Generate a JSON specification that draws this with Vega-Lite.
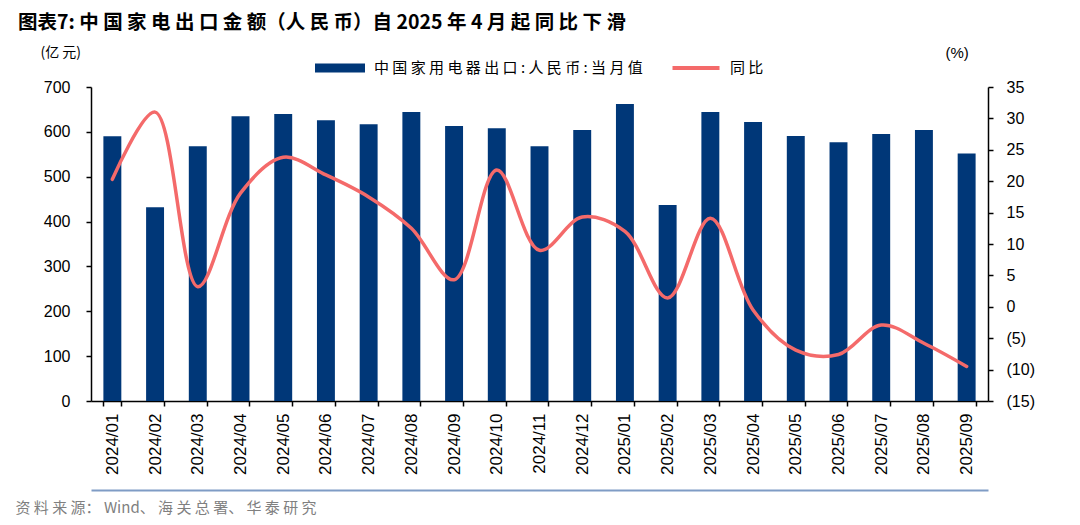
{
  "$schema": "https://vega.github.io/schema/vega-lite/v6.json",
  "width": 897,
  "height": 314,
  "autosize": {"type": "none"},
  "padding": {"left": 91, "top": 87, "right": 92, "bottom": 124},
  "background": "white",
  "title": {
    "text": "图表7:  中 国 家 电 出 口 金 额（人 民 币）自 2025 年 4 月 起 同 比 下 滑",
    "anchor": "start",
    "frame": "group",
    "dx": -73,
    "offset": 1,
    "baseline": "middle",
    "font": "Noto Sans CJK SC",
    "fontSize": 19.5,
    "fontWeight": "bold",
    "color": "#000000"
  },
  "config": {
    "view": {"stroke": null},
    "axis": {"grid": false}
  },
  "data": {
    "values": [
      {"month": "2024/01", "value": 590, "yoy": 20.3},
      {"month": "2024/02", "value": 432, "yoy": 31.0},
      {"month": "2024/03", "value": 568, "yoy": 3.2},
      {"month": "2024/04", "value": 635, "yoy": 18.1},
      {"month": "2024/05", "value": 640, "yoy": 23.8},
      {"month": "2024/06", "value": 626, "yoy": 21.0},
      {"month": "2024/07", "value": 617, "yoy": 17.5},
      {"month": "2024/08", "value": 644, "yoy": 12.5},
      {"month": "2024/09", "value": 613, "yoy": 4.3},
      {"month": "2024/10", "value": 608, "yoy": 21.8},
      {"month": "2024/11", "value": 568, "yoy": 9.0},
      {"month": "2024/12", "value": 604, "yoy": 14.3},
      {"month": "2025/01", "value": 662, "yoy": 12.0},
      {"month": "2025/02", "value": 437, "yoy": 1.4},
      {"month": "2025/03", "value": 644, "yoy": 14.1},
      {"month": "2025/04", "value": 622, "yoy": -0.5},
      {"month": "2025/05", "value": 591, "yoy": -6.9},
      {"month": "2025/06", "value": 577, "yoy": -7.6},
      {"month": "2025/07", "value": 595, "yoy": -2.9},
      {"month": "2025/08", "value": 604, "yoy": -5.8},
      {"month": "2025/09", "value": 552, "yoy": -9.5}
    ]
  },
  "layer": [
    {
      "mark": {"type": "bar", "color": "#003778"},
      "encoding": {
        "x": {
          "field": "month",
          "type": "nominal",
          "sort": null,
          "scale": {"paddingInner": 0.58, "paddingOuter": 0.29},
          "axis": {
            "orient": "bottom",
            "title": null,
            "labelAngle": -90,
            "labelAlign": "right",
            "labelBaseline": "middle",
            "labelFont": "Liberation Sans",
            "labelFontSize": 17,
            "labelColor": "#000000",
            "labelPadding": 7,
            "tickBand": "extent",
            "tickSize": 5,
            "tickColor": "#000000",
            "tickWidth": 1.5,
            "domainColor": "#000000",
            "domainWidth": 1.5
          }
        },
        "y": {
          "field": "value",
          "type": "quantitative",
          "scale": {"domain": [0, 700], "nice": false, "zero": true},
          "axis": {
            "orient": "left",
            "values": [0, 100, 200, 300, 400, 500, 600, 700],
            "title": "(亿 元)",
            "titleAngle": 0,
            "titleAlign": "left",
            "titleBaseline": "middle",
            "titleX": -51,
            "titleY": -35,
            "titleFont": "Noto Sans CJK SC",
            "titleFontSize": 14,
            "titleFontWeight": "normal",
            "titleColor": "#000000",
            "labelFont": "Liberation Sans",
            "labelFontSize": 16,
            "labelColor": "#000000",
            "labelPadding": 16,
            "tickSize": 5,
            "tickColor": "#000000",
            "tickWidth": 1.5,
            "domainColor": "#000000",
            "domainWidth": 1.5
          }
        },
        "color": {
          "datum": "中国家用电器出口:人民币:当月值",
          "type": "nominal",
          "scale": {
            "domain": ["中国家用电器出口:人民币:当月值", "同比"],
            "range": ["#003778", "#F46A6A"]
          },
          "legend": {
            "title": null,
            "orient": "none",
            "legendX": 224,
            "legendY": -44,
            "direction": "horizontal",
            "padding": 0,
            "symbolSize": 2500,
            "labelFont": "Noto Sans CJK SC",
            "labelFontSize": 15,
            "labelColor": "#000000",
            "labelOffset": 9,
            "columnPadding": 28,
            "labelLimit": 400,
            "labelExpr": "join(split(datum.label, ''), ' ')",
            "encode": {
              "symbols": {
                "update": {
                  "shape": {"signal": "datum.value === '同比' ? 'M-0.94,-0.08H0.94V0.08H-0.94Z' : 'M-1,-0.18H1V0.18H-1Z'"},
                  "fill": {"signal": "datum.value === '同比' ? '#F46A6A' : '#003778'"},
                  "stroke": {"value": "transparent"},
                  "strokeWidth": {"value": 0},
                  "opacity": {"value": 1}
                }
              }
            }
          }
        }
      }
    },
    {
      "mark": {"type": "line", "interpolate": "catmull-rom", "strokeWidth": 3.5, "strokeCap": "round"},
      "encoding": {
        "x": {
          "field": "month",
          "type": "nominal",
          "sort": null,
          "axis": {
            "orient": "bottom",
            "title": "资 料 来 源： Wind、 海 关 总 署、 华 泰 研 究",
            "titleAnchor": "start",
            "titleAlign": "left",
            "titleBaseline": "middle",
            "titleX": -76,
            "titleY": 17,
            "titleFont": "Noto Sans CJK SC",
            "titleFontSize": 15,
            "titleFontWeight": "normal",
            "titleColor": "#808080",
            "offset": 89,
            "labels": false,
            "ticks": false,
            "domain": true,
            "domainColor": "#7F9CC5",
            "domainWidth": 2
          }
        },
        "y": {
          "field": "yoy",
          "type": "quantitative",
          "scale": {"domain": [-15, 35], "nice": false, "zero": false},
          "axis": {
            "orient": "right",
            "values": [-15, -10, -5, 0, 5, 10, 15, 20, 25, 30, 35],
            "labelExpr": "datum.value < 0 ? '(' + abs(datum.value) + ')' : '' + datum.value",
            "title": "(%)",
            "titleAngle": 0,
            "titleAlign": "left",
            "titleBaseline": "middle",
            "titleX": -43,
            "titleY": -35,
            "titleFont": "Liberation Sans",
            "titleFontSize": 15,
            "titleFontWeight": "normal",
            "titleColor": "#000000",
            "labelFont": "Liberation Sans",
            "labelFontSize": 16,
            "labelColor": "#000000",
            "labelPadding": 13,
            "tickSize": 5,
            "tickColor": "#000000",
            "tickWidth": 1.5,
            "domainColor": "#000000",
            "domainWidth": 1.5
          }
        },
        "color": {"datum": "同比", "type": "nominal"}
      }
    }
  ],
  "resolve": {"scale": {"y": "independent"}, "axis": {"x": "independent"}}
}
